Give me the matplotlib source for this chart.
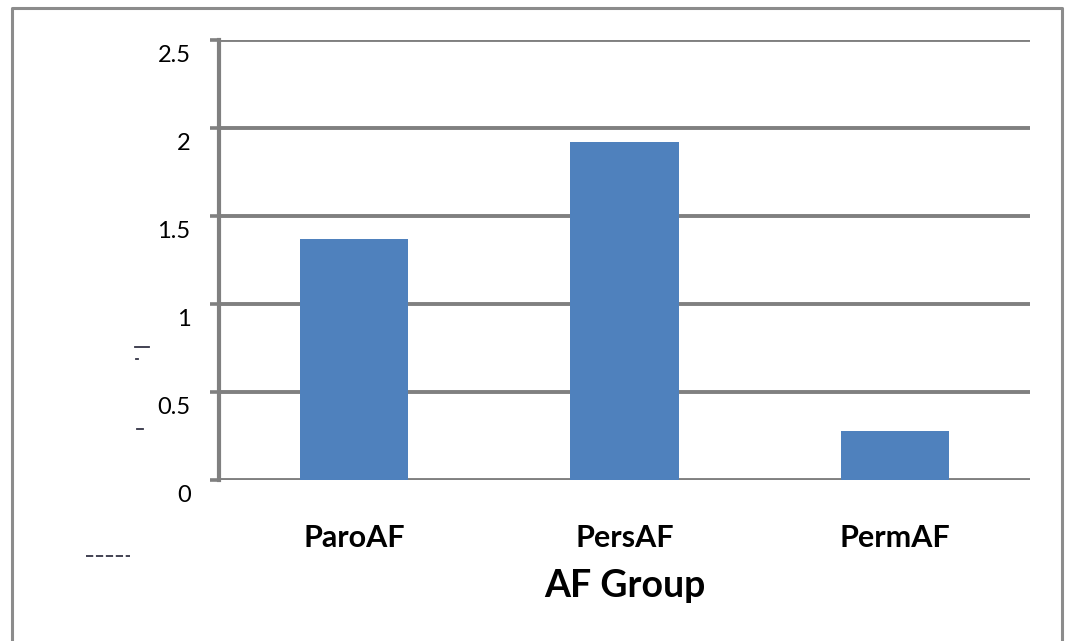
import matplotlib
matplotlib.use("Agg")
import matplotlib.pyplot as plt
import matplotlib.transforms as mtransforms
from matplotlib.lines import Line2D

categories = ["ParoAF", "PersAF", "PermAF"]
values = [1.37, 1.92, 0.28]
y_ticks = [0, 0.5, 1, 1.5, 2, 2.5]
y_tick_labels = ["0", "0.5", "1", "1.5", "2", "2.5"]
x_title = "AF Group"

BAR = "#4F81BD"
GRID = "#808080"

plt.rcParams["font.family"] = ["Lato", "DejaVu Sans"]

W, H = 1070, 641
fig = plt.figure(figsize=(W / 100, H / 100), dpi=100)
fig.patch.set_facecolor("white")

# outer chart frame (open at the bottom edge)
fig.add_artist(Line2D([12 / W, 12 / W, 1062 / W, 1062 / W],
                      [0, 1 - 8 / H, 1 - 8 / H, 0],
                      transform=fig.transFigure, color="#8c8c8c", lw=2.2))

ax = fig.add_axes([219 / W, 1 - 480 / H, (1030 - 219) / W, (480 - 40) / H])
x = list(range(len(categories)))
ax.bar(x, values, width=0.4, color=BAR, zorder=3)

ax.set_xlim(-0.5, len(categories) - 0.5)
ax.set_ylim(0, 2.5)
ax.set_yticks(y_ticks)
ax.set_yticklabels(y_tick_labels, fontsize=17, color="#000000")
ax.set_xticks(x)
ax.set_xticklabels(categories, fontsize=22, fontweight="bold", color="#000000")

ax.grid(axis="y", color=GRID, lw=2.8, zorder=1)
ax.set_axisbelow(True)
for side in ["top", "right", "bottom"]:
    ax.spines[side].set_visible(False)
ax.spines["left"].set_color(GRID)
ax.spines["left"].set_linewidth(3.0)

ax.tick_params(axis="y", length=6.5, width=2.6, color=GRID, pad=14)
ax.tick_params(axis="x", length=0, pad=32)

# nudge y labels downward below their gridlines
offset = mtransforms.ScaledTranslation(0, -13 / 100, fig.dpi_scale_trans)
for lbl in ax.get_yticklabels():
    lbl.set_transform(lbl.get_transform() + offset)

ax.set_xlabel(x_title, fontsize=27, fontweight="bold", color="#000000", labelpad=12)

# faint leftover marks on the left margin
for (x0, x1, yy, ls) in [(135, 149, 347, "-"), (136, 138, 359, "-"),
                         (137, 143, 429, "-"), (86, 130, 556, (0, (4, 1.5)))]:
    fig.add_artist(Line2D([x0 / W, x1 / W], [1 - yy / H, 1 - yy / H],
                          transform=fig.transFigure, color="#333344", lw=1.3,
                          linestyle=ls))

fig.savefig("out.png", dpi=100)
